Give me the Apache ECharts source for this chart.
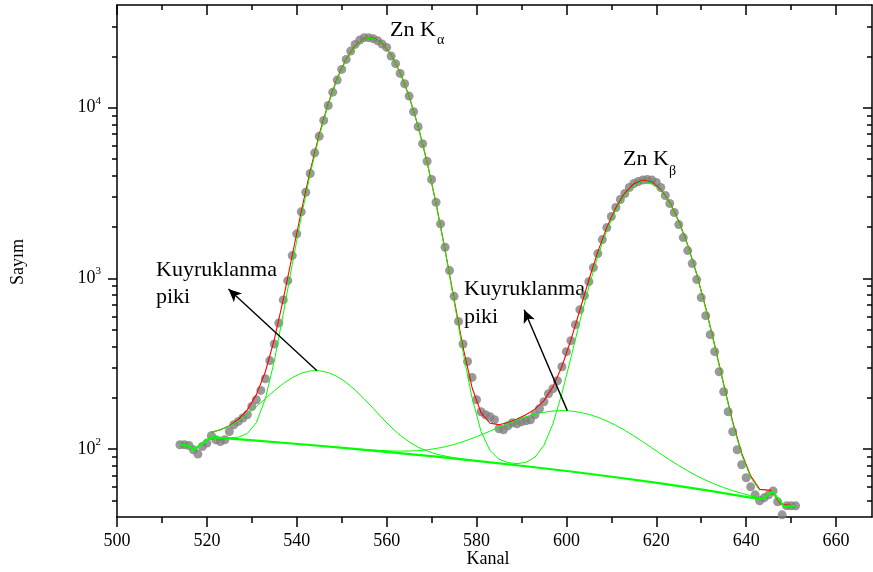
<!DOCTYPE html>
<html><head><meta charset="utf-8">
<script src="https://cdn.jsdelivr.net/npm/echarts/dist/echarts.min.js"></script>
<style>html,body{margin:0;padding:0;background:#fff;}#c{width:873px;height:572px;}</style>
</head><body><div id="c"></div>
<script>
// ---- measured counts, one per channel, starting at channelStart ----
const channelStart = 514;
const counts = [
  106, 106, 105, 99, 93.5, 103.6, 108.4, 119.7, 113.4, 110.8,
  113.4, 126.8, 138.9, 145.2, 152, 159, 177.7, 194.7, 220.6, 258.4,
  330, 413, 548, 748, 970, 1361, 1824, 2455, 3199, 4120,
  5445, 6810, 8430, 10315, 12345, 14520, 16780, 19190, 21480, 23500,
  24920, 25740, 25740, 25400, 24700, 23600, 22570, 20070, 18120, 15900,
  13830, 11700, 9474, 7738, 6151, 4862, 3797, 2795, 2087, 1522,
  1111, 785, 560, 413, 326, 263, 194.6, 165.5, 158.9, 154.7,
  148.5, 131.5, 129.8, 137, 142.7, 140.8, 144.6, 146.6, 148.5, 158.9,
  172.4, 189.4, 211, 225.8, 251.6, 303.9, 372.2, 431.7, 535.8, 656.1,
  792.8, 957.6, 1157, 1398, 1689, 1986, 2304, 2602, 2899, 3144,
  3409, 3597, 3696, 3772, 3798, 3772, 3646, 3409, 3060, 2747,
  2432, 2068, 1735, 1455, 1221, 984, 771.8, 605.1, 468.1, 372.2,
  284, 216.8, 165.5, 126.3, 99.1, 80.9, 67.9, 60.1, 53.95, 49.8,
  51.8, 53.95, 56.9, 49.1, 41.2, 46.5, 46.5, 46.5
];

// ---- fitted curves sampled every fitStep channels ----
const fitStart = 521;
const fitStep = 2;
const totalFit = [
  125.5, 129.8, 137.2, 149.4, 170.0, 207.8, 282.9, 437.8, 753, 1367,
  2467, 4281, 6985, 10601, 14891, 19306, 23052, 25348, 25644, 23863,
  20436, 16103, 11674, 7796, 4810, 2749, 1472, 757, 395, 229.6,
  163.2, 141.7, 138.9, 143.0, 149.9, 158.8, 171.4, 192.3, 231.5, 304.8,
  436.1, 653.1, 981.7, 1435, 1991, 2597, 3162, 3581, 3764, 3672,
  3321, 2785, 2169, 1571, 1061, 673.3, 407, 240.4, 144.9, 94.6,
  69.7, 58.1
];
const totalEndX = [645.5, 647.8, 651];
const totalEndY = [57.3, 47.3, 46.5];
const mainPeaksFit = [
  117.65, 116.7, 116.3, 117.4, 123.4, 142.8, 196.5, 328, 620, 1212,
  2296, 4100, 6802, 10423, 14727, 19161, 22930, 25249, 25568, 23807,
  20396, 16075, 11654, 7780, 4796, 2735, 1456, 738, 371, 200,
  126.9, 98.0, 87.2, 83.3, 82.2, 83.6, 89.6, 105.2, 140.5, 211.7,
  342.8, 561.6, 893.7, 1352, 1915, 2527, 3100, 3527, 3719, 3634,
  3290, 2761, 2150, 1556, 1050, 665, 401, 236, 142, 92.6,
  68.4, 57.2
];
const tailAlphaStart = 521;
const tailAlphaFit = [
  125.4, 129.6, 136.3, 146.3, 159.8, 177.1, 197.4, 219.8, 242.2, 262.5,
  278.3, 287.2, 288.2, 280.9, 266.2, 245.7, 221.9, 197, 173.3, 152.1,
  134.5, 120.6, 110.2, 102.6, 97.4, 93.6, 91.0, 89.0, 87.4, 86.1
];
const tailBetaStart = 553;
const tailBetaFit = [
  100.4, 99.5, 98.7, 98.0, 97.5, 97.3, 97.4, 97.9, 99.1, 100.8,
  103.2, 106.4, 110.5, 115.4, 121.1, 127.4, 134.3, 141.2, 148.1, 154.5,
  160.1, 164.3, 167.1, 168.1, 167.2, 164.3, 159.7, 153.6, 146.1, 137.7,
  128.7, 119.5, 110.4, 101.7, 93.7, 86.4, 80.1, 74.5, 69.7, 65.7,
  62.3, 59.5, 57.1, 55.1, 53.3, 51.75
];
const backgroundX = [514, 516, 517, 521, 531, 541, 551, 561, 571, 581, 591, 601, 611, 621, 631, 641, 643, 644, 645.8, 648.5, 651];
const backgroundY = [106, 104.5, 99, 117.6, 112.1, 106.7, 101.2, 95.7, 90.3, 84.8, 79.3, 73.9, 68.4, 62.9, 57.5, 52.0, 50.9, 51.8, 56.5, 46, 46.5];

// ---- ticks ----
const xMajorTicks = [500, 520, 540, 560, 580, 600, 620, 640, 660];
const xMinorTicks = [510, 530, 550, 570, 590, 610, 630, 650];
const yMajorTicks = [100, 1000, 10000];
const yMinorTicks = [50, 60, 70, 80, 90, 200, 300, 400, 500, 600, 700, 800, 900,
  2000, 3000, 4000, 5000, 6000, 7000, 8000, 9000, 20000, 30000];

// ---- annotation arrows (data coords: from tail peak to label) ----
const arrowFrom = [[544.5, 288], [600.2, 168]];
const arrowTo = [[524.8, 867], [590.6, 656]];

const F = 'Liberation Serif';
const pairs = (start, step, arr) => arr.map((v, i) => [start + i * step, v]);
const zip = (xs, ys) => xs.map((x, i) => [x, ys[i]]);

const X_MIN = 500, X_MAX = 668, Y_MIN = 40, Y_MAX = 40000;
const lineBlack = { color: '#000', width: 1.5 };

function xAxisDef(position, ticks, len, inside, showLine, labels) {
  return {
    type: 'value', gridIndex: 0, position, min: X_MIN, max: X_MAX,
    axisLine: { show: showLine, onZero: false, lineStyle: lineBlack },
    axisTick: { show: true, customValues: ticks, length: len, inside, lineStyle: lineBlack },
    axisLabel: labels ? { show: true, customValues: ticks, margin: 15, fontSize: 18, fontFamily: F, color: '#000' } : { show: false },
    splitLine: { show: false }, minorTick: { show: false }
  };
}
function yAxisDef(position, ticks, len, inside, showLine, labels) {
  return {
    type: 'log', logBase: 10, gridIndex: 0, position, min: Y_MIN, max: Y_MAX,
    axisLine: { show: showLine, onZero: false, lineStyle: lineBlack },
    axisTick: { show: true, customValues: ticks, length: len, inside, lineStyle: lineBlack },
    axisLabel: labels ? {
      show: true, customValues: ticks, margin: 16,
      formatter: v => '{b|10}{s|' + Math.round(Math.log10(v)) + '}',
      rich: {
        b: { fontSize: 18, fontFamily: F, color: '#000' },
        s: { fontSize: 11, fontFamily: F, color: '#000', padding: [0, 0, 14, 0] }
      }
    } : { show: false },
    splitLine: { show: false }, minorTick: { show: false }
  };
}

const chart = echarts.init(document.getElementById('c'), null, { renderer: 'canvas' });
chart.setOption({
  animation: false,
  backgroundColor: '#fff',
  grid: { left: 117, right: 1, top: 5, bottom: 55, containLabel: false },
  xAxis: [
    xAxisDef('bottom', xMajorTicks, 10, false, true, true),
    xAxisDef('bottom', xMinorTicks, 6, false, false, false),
    xAxisDef('top', xMajorTicks, 10, true, true, false),
    xAxisDef('top', xMinorTicks, 5, true, false, false)
  ],
  yAxis: [
    yAxisDef('left', yMajorTicks, 9, false, true, true),
    yAxisDef('left', yMinorTicks, 5, false, false, false),
    yAxisDef('right', yMajorTicks, 9, true, true, false),
    yAxisDef('right', yMinorTicks, 5, true, false, false)
  ],
  series: [
    {
      name: 'Sayım', type: 'scatter', symbol: 'circle', symbolSize: 9,
      itemStyle: { color: '#808080' },
      data: pairs(channelStart, 1, counts), silent: true
    },
    {
      name: 'Toplam fit', type: 'line', showSymbol: false, silent: true,
      lineStyle: { color: '#ff0000', width: 1.1 },
      data: pairs(fitStart, fitStep, totalFit).concat(zip(totalEndX, totalEndY))
    },
    {
      name: 'Ana pikler', type: 'line', showSymbol: false, silent: true,
      lineStyle: { color: '#00ff00', width: 1 },
      data: pairs(fitStart, fitStep, mainPeaksFit)
    },
    {
      name: 'Kα kuyruk', type: 'line', showSymbol: false, silent: true,
      lineStyle: { color: '#00ff00', width: 1 },
      data: pairs(tailAlphaStart, fitStep, tailAlphaFit)
    },
    {
      name: 'Kβ kuyruk', type: 'line', showSymbol: false, silent: true,
      lineStyle: { color: '#00ff00', width: 1 },
      data: pairs(tailBetaStart, fitStep, tailBetaFit)
    },
    {
      name: 'Arka plan', type: 'line', showSymbol: false, silent: true,
      lineStyle: { color: '#00ff00', width: 2.2 },
      data: zip(backgroundX, backgroundY),
      markLine: {
        silent: true, symbol: ['none', 'arrow'], symbolSize: [9, 13],
        label: { show: false },
        lineStyle: { color: '#000', width: 1.4, type: 'solid' },
        data: arrowFrom.map((p, i) => [{ coord: p }, { coord: arrowTo[i] }])
      }
    }
  ],
  graphic: [
    { type: 'text', x: 390, y: 30, style: { text: 'Zn K', font: '22px "Liberation Serif"', fill: '#000', align: 'left', verticalAlign: 'middle', textAlign: 'left', textVerticalAlign: 'middle' } },
    { type: 'text', x: 437, y: 40.5, style: { text: 'α', font: '14px "Liberation Serif"', fill: '#000', align: 'left', verticalAlign: 'middle', textAlign: 'left', textVerticalAlign: 'middle' } },
    { type: 'text', x: 623, y: 159.5, style: { text: 'Zn K', font: '22px "Liberation Serif"', fill: '#000', align: 'left', verticalAlign: 'middle', textAlign: 'left', textVerticalAlign: 'middle' } },
    { type: 'text', x: 669, y: 171.5, style: { text: 'β', font: '14px "Liberation Serif"', fill: '#000', align: 'left', verticalAlign: 'middle', textAlign: 'left', textVerticalAlign: 'middle' } },
    { type: 'text', x: 156, y: 270.5, style: { text: 'Kuyruklanma', font: '22px "Liberation Serif"', fill: '#000', align: 'left', verticalAlign: 'middle', textAlign: 'left', textVerticalAlign: 'middle' } },
    { type: 'text', x: 156, y: 297, style: { text: 'piki', font: '22px "Liberation Serif"', fill: '#000', align: 'left', verticalAlign: 'middle', textAlign: 'left', textVerticalAlign: 'middle' } },
    { type: 'text', x: 464, y: 289.5, style: { text: 'Kuyruklanma', font: '22px "Liberation Serif"', fill: '#000', align: 'left', verticalAlign: 'middle', textAlign: 'left', textVerticalAlign: 'middle' } },
    { type: 'text', x: 464, y: 317.5, style: { text: 'piki', font: '22px "Liberation Serif"', fill: '#000', align: 'left', verticalAlign: 'middle', textAlign: 'left', textVerticalAlign: 'middle' } },
    { type: 'text', x: 488, y: 559, style: { text: 'Kanal', font: '18px "Liberation Serif"', fill: '#000', align: 'center', verticalAlign: 'middle', textAlign: 'center', textVerticalAlign: 'middle' } },
    { type: 'text', x: 18, y: 262, rotation: Math.PI / 2, style: { text: 'Sayım', font: '18px "Liberation Serif"', fill: '#000', align: 'center', verticalAlign: 'middle', textAlign: 'center', textVerticalAlign: 'middle' } }
  ]
});
</script>
</body></html>
